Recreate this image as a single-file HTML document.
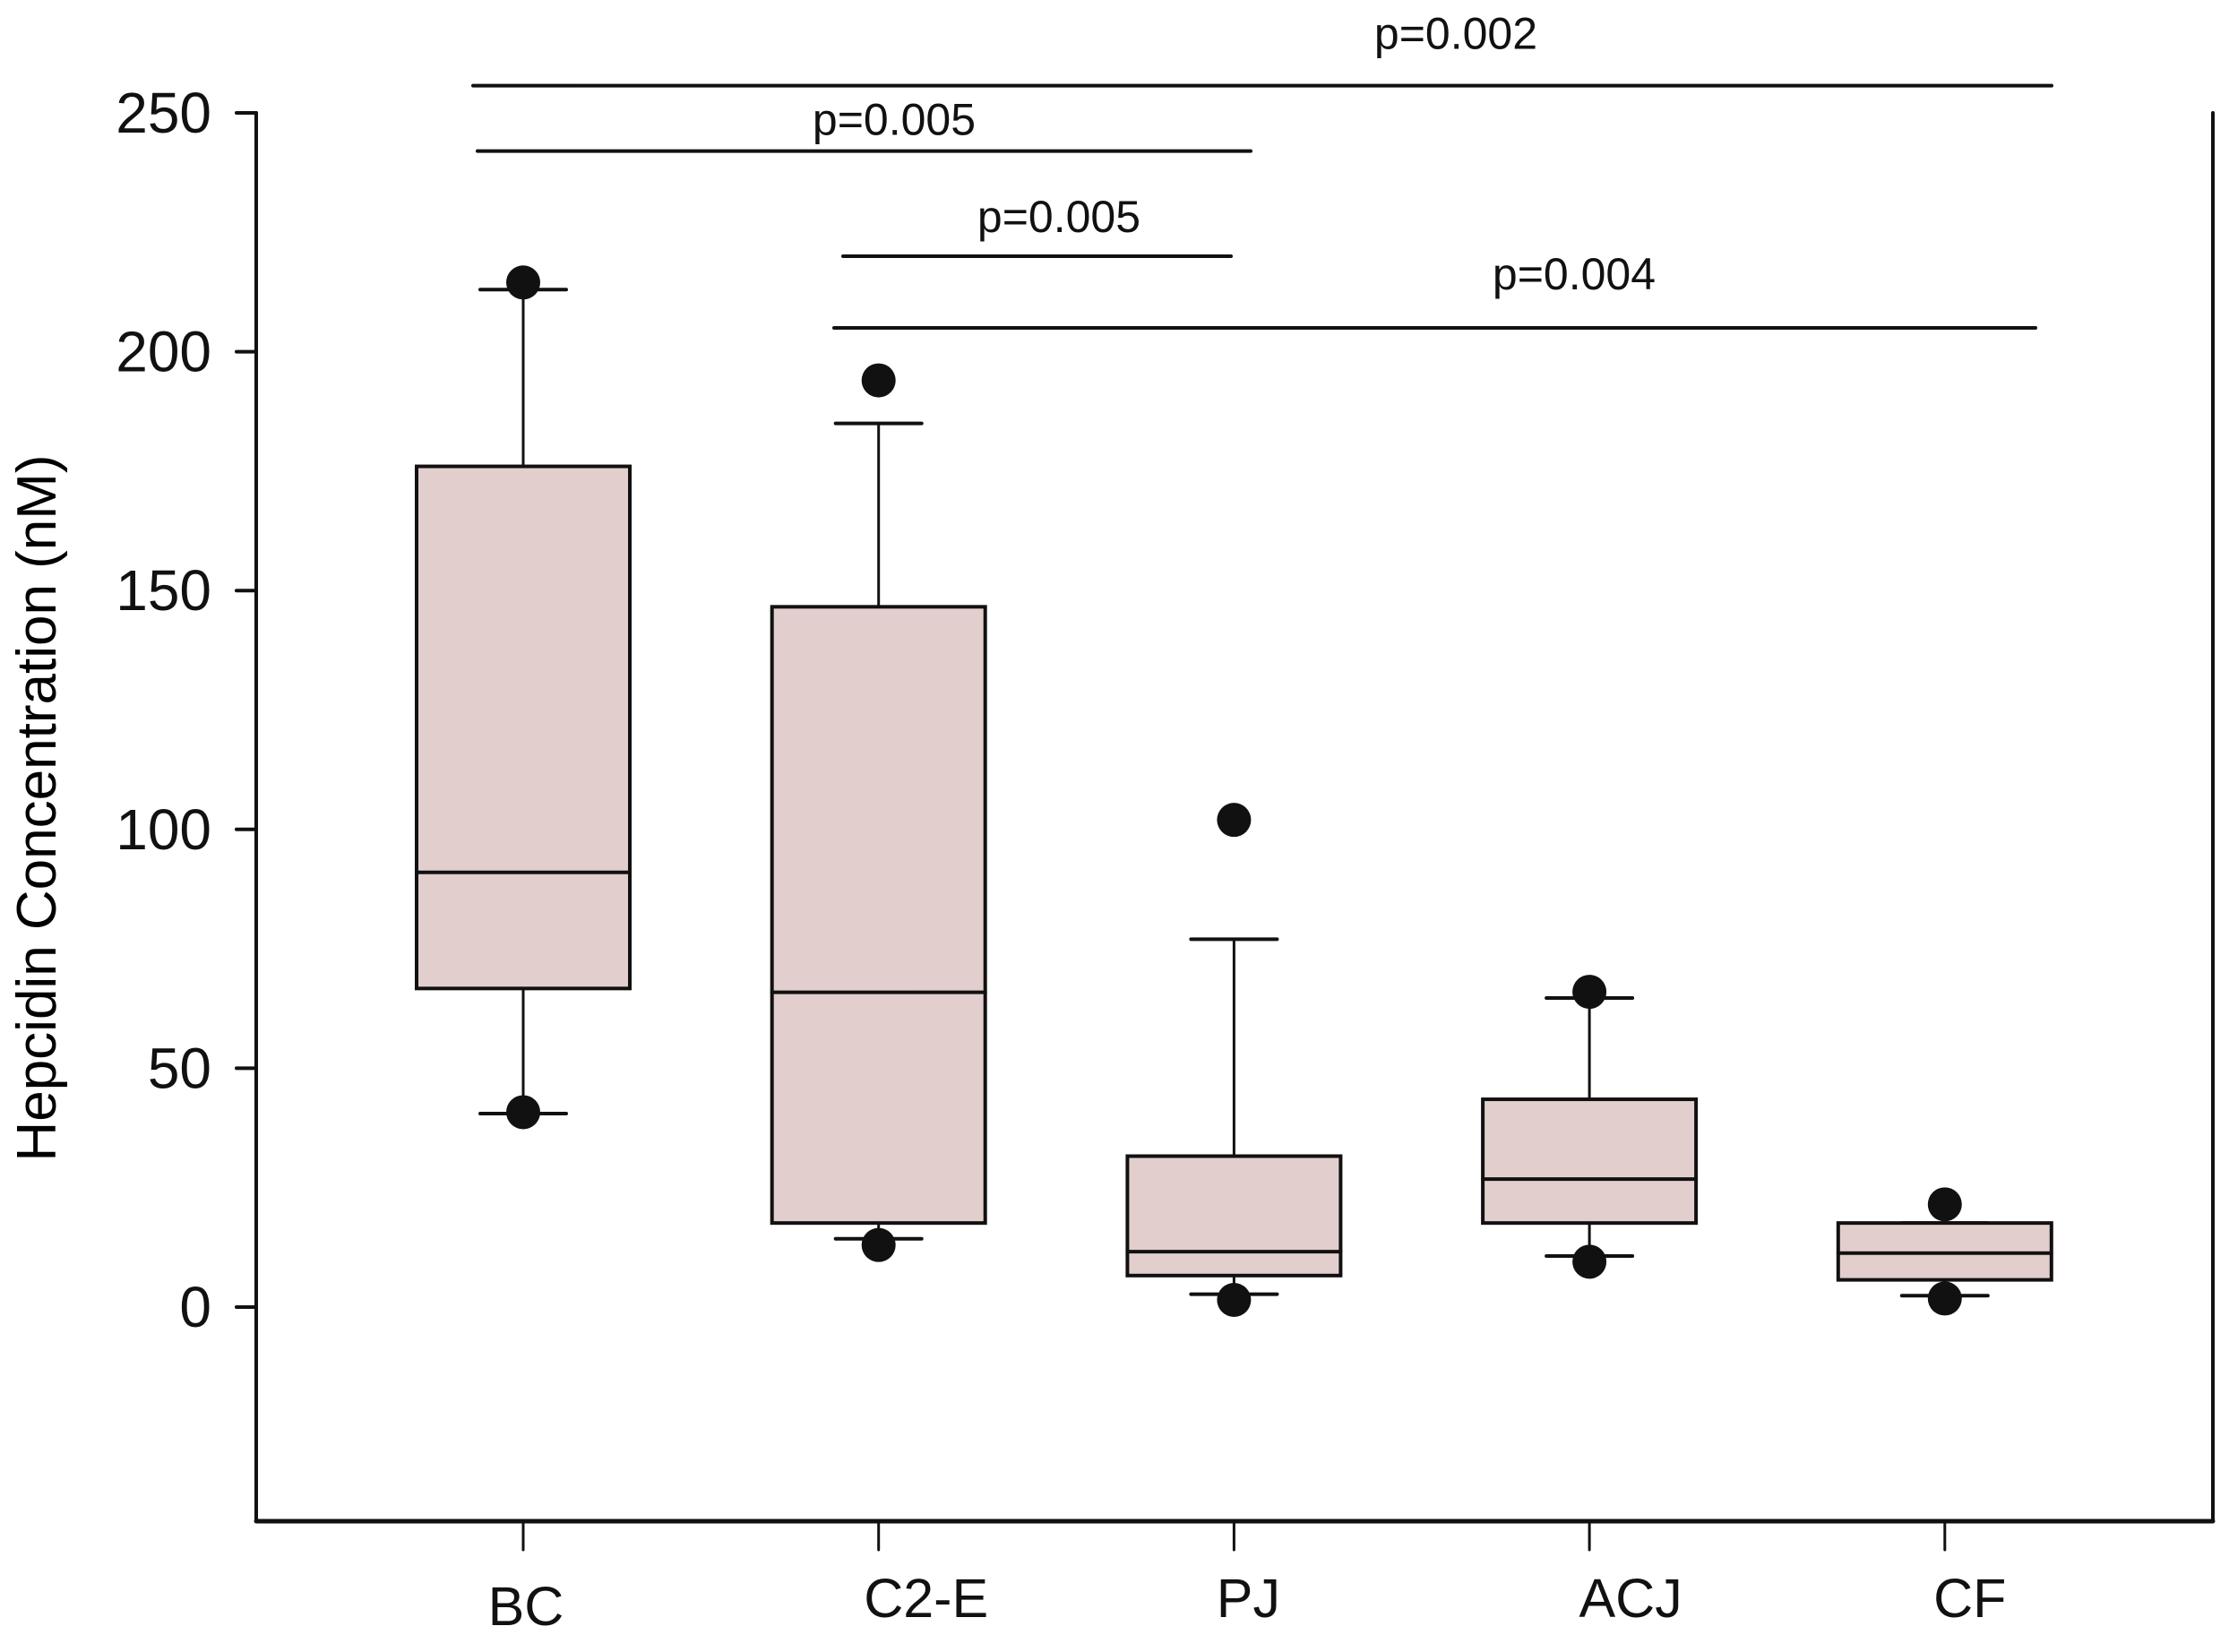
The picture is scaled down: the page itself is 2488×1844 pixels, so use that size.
<!DOCTYPE html>
<html><head><meta charset="utf-8"><style>
html,body{margin:0;padding:0;background:#fff;}
svg{display:block;font-family:"Liberation Sans",Arial,sans-serif;}
</style></head><body>
<svg id="chart" width="2488" height="1844" viewBox="0 0 2488 1844" xmlns="http://www.w3.org/2000/svg">
<g id="axes"></g>
<g id="boxes"></g>
<g id="sig"></g>
<text x="0" y="0" font-size="62" text-anchor="middle" transform="translate(62,902) rotate(-90)">Hepcidin Concentration (nM)</text>
</svg>
<script>
const categories = ["BC","C2-E","PJ","ACJ","CF"];
const whiskerLow = [40.5, 14.3, 2.7, 10.7, 2.4];
const q1Values = [66.7, 17.6, 6.6, 17.6, 5.7];
const medians = [91, 65.9, 11.6, 26.8, 11.3];
const q3Values = [176, 146.6, 31.6, 43.5, 17.6];
const whiskerHigh = [213, 185, 77, 64.7, 17.6];
const outlierHigh = [214.5, 194, 102, 66, 21.5];
const outlierLow = [40.8, 13, 1.5, 9.5, 1.8];
const yTicks = [0, 50, 100, 150, 200, 250];
const sigFrom = [0, 0, 1, 1];
const sigTo = [4, 2, 2, 4];
const sigLevel = [255.7, 242, 220, 205];
const sigLabels = ["p=0.002","p=0.005","p=0.005","p=0.004"];

const NS="http://www.w3.org/2000/svg";
const Y0=1459, PPU=5.332;
function y(v){return Y0 - v*PPU;}
function x(i){return 584 + i*396.7;}
function mk(tag, attrs, parent){const e=document.createElementNS(NS,tag);for(const k in attrs)e.setAttribute(k,attrs[k]);parent.appendChild(e);return e;}
const axes=document.getElementById('axes'), boxes=document.getElementById('boxes'), sig=document.getElementById('sig');
const ln={stroke:'#111','stroke-width':4,'stroke-linecap':'round'};
function line(x1,y1,x2,y2,p,w){return mk('line',Object.assign({},ln,{x1,y1,x2,y2,'stroke-width':w||4}),p);}

let a=line(286,126,286,1698,axes);


a=line(286,1698,2470,1698,axes,5);


a=line(2470,126,2470,1698,axes);


yTicks.forEach(v=>{
  const t=line(264,y(v),286,y(v),axes);
  
  
  const tx=mk('text',{x:236,y:y(v)+22,'font-size':64,'text-anchor':'end',fill:'#111'},axes);
  tx.textContent=v;
  
  
});
const labelOff=[3,53,16,46,28];
categories.forEach((c,i)=>{
  const t=line(x(i),1698,x(i),1730,axes,3);
  
  
  const tx=mk('text',{x:x(i)+labelOff[i],y:i==0?1814:1805,'font-size':61,'text-anchor':'middle',fill:'#111'},axes);
  tx.textContent=c;
  
  

  const cx=x(i), hw=119, cap=48;
  const g=mk('g',{},boxes);
  
  
  line(cx,y(q3Values[i]),cx,y(whiskerHigh[i]),g,3);
  line(cx-cap,y(whiskerHigh[i]),cx+cap,y(whiskerHigh[i]),g,4);
  line(cx,y(q1Values[i]),cx,y(whiskerLow[i]),g,3);
  line(cx-cap,y(whiskerLow[i]),cx+cap,y(whiskerLow[i]),g,4);
  mk('rect',{x:cx-hw,y:y(q3Values[i]),width:2*hw,height:y(q1Values[i])-y(q3Values[i]),fill:'#e2cfcd',stroke:'#111','stroke-width':4},g);
  line(cx-hw,y(medians[i]),cx+hw,y(medians[i]),g,4);
  const o1=mk('circle',{cx:cx,cy:y(outlierHigh[i]),r:19,fill:'#111'},g);
  
  
  const o2=mk('circle',{cx:cx,cy:y(outlierLow[i]),r:19,fill:'#111'},g);
  
  
});
const sigX1=[528,533,941,931], sigX2=[2290,1396,1374,2272];
const textOff=[-41,-18,-27,-43];
sigLabels.forEach((l,k)=>{
  const yy=y(sigLevel[k]);
  const x1=sigX1[k], x2=sigX2[k];
  const s=line(x1,yy,x2,yy,sig,4);
  
  
  const tx=mk('text',{x:[1625,998,1182,1757][k],y:yy+textOff[k],'font-size':50,'text-anchor':'middle',fill:'#111'},sig);
  tx.textContent=l;
  
  
});
</script>
</body></html>
